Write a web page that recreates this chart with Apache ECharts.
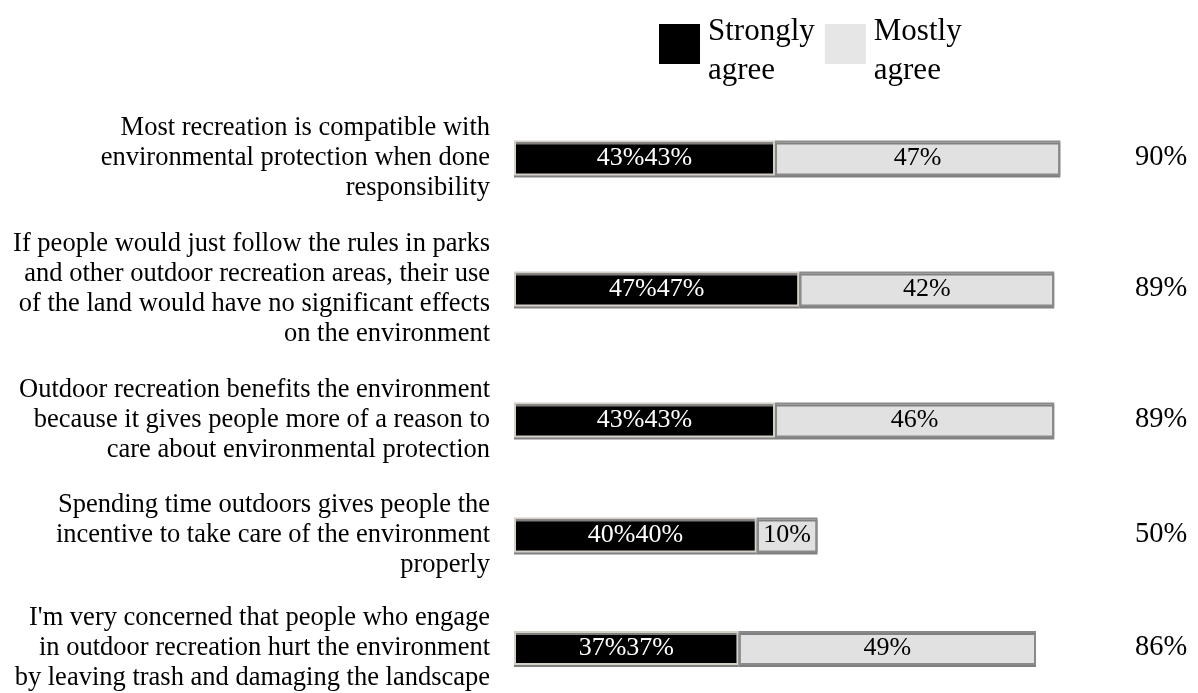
<!DOCTYPE html>
<html>
<head>
<meta charset="utf-8">
<script src="https://cdn.jsdelivr.net/npm/echarts@6/dist/echarts.min.js"></script>
<style>
  html, body { margin: 0; padding: 0; background: #fff; }
  #chart { width: 1198px; height: 693px; }
</style>
</head>
<body>
<div id="chart"></div>
<script>
// Survey statements (line breaks as printed)
const statements = [
  'Most recreation is compatible with\nenvironmental protection when done\nresponsibility',
  'If people would just follow the rules in parks\nand other outdoor recreation areas, their use\nof the land would have no significant effects\non the environment',
  'Outdoor recreation benefits the environment\nbecause it gives people more of a reason to\ncare about environmental protection',
  'Spending time outdoors gives people the\nincentive to take care of the environment\nproperly',
  "I'm very concerned that people who engage\nin outdoor recreation hurt the environment\nby leaving trash and damaging the landscape"
];
const stronglyAgree = [43, 47, 43, 40, 37];
const mostlyAgree = [47, 42, 46, 10, 49];
const totalAgree = [90, 89, 89, 50, 86];
const seriesNames = ['Strongly\nagree', 'Mostly\nagree'];

// Vertical centre of each row (rows differ in height with their text)
const rowCenters = [158, 289, 420, 535, 651];
const FONT = '"Liberation Serif", "Times New Roman", serif';

const grids = [], xAxes = [], yAxes = [], series = [];
rowCenters.forEach((c, i) => {
  grids.push({ left: 514, right: 77, top: c - 19, height: 38 });
  xAxes.push({ gridIndex: i, type: 'value', min: 0, max: 100, show: false });
  yAxes.push({
    gridIndex: i, type: 'category', data: [statements[i]],
    axisLine: { show: false }, axisTick: { show: false },
    axisLabel: { color: '#000', fontFamily: FONT, fontSize: 26.5, lineHeight: 30, margin: 24, align: 'right' }
  });
  yAxes.push({
    gridIndex: i, type: 'category', position: 'right', data: [totalAgree[i] + '%'],
    axisLine: { show: false }, axisTick: { show: false },
    axisLabel: { color: '#000', fontFamily: FONT, fontSize: 28.5, margin: 14, align: 'left' }
  });
  const common = {
    type: 'bar', stack: 'row' + i, xAxisIndex: i, yAxisIndex: i * 2,
    barWidth: 35, silent: true
  };
  series.push(Object.assign({}, common, {
    name: seriesNames[0], data: [stronglyAgree[i]],
    itemStyle: { color: '#000', borderColor: '#d4d0c8', borderWidth: 2, shadowColor: '#808080', shadowOffsetX: 0, shadowOffsetY: 2 },
    label: { show: true, position: 'inside', color: '#fff', fontFamily: FONT, fontSize: 26,
      formatter: p => p.value + '%' + p.value + '%' }
  }));
  series.push(Object.assign({}, common, {
    name: seriesNames[1], data: [mostlyAgree[i]],
    itemStyle: { color: '#e1e1e1', borderColor: '#8a8a8a', borderWidth: 2, shadowColor: '#808080', shadowOffsetX: 0, shadowOffsetY: 2 },
    label: { show: true, position: 'inside', color: '#000', fontFamily: FONT, fontSize: 26,
      formatter: p => p.value + '%' }
  }));
});

// Legend text: a thin spacer line on top lowers the two-line caption beside its swatch
const legendText = name => '{s| }\n' + name.split('\n').map(l => '{t|' + l + '}').join('\n');

const chart = echarts.init(document.getElementById('chart'), null, { renderer: 'canvas' });
chart.setOption({
  animation: false,
  backgroundColor: '#fff',
  color: ['#000', '#e6e6e6'],
  legend: {
    left: 659, top: 3, padding: 0, itemWidth: 41, itemHeight: 40, itemGap: 10,
    icon: 'rect', selectedMode: false,
    data: [
      { name: seriesNames[0], itemStyle: { color: '#000', borderWidth: 0, shadowBlur: 0, shadowOffsetY: 0 } },
      { name: seriesNames[1], itemStyle: { color: '#e6e6e6', borderWidth: 0, shadowBlur: 0, shadowOffsetY: 0 } }
    ],
    formatter: legendText,
    textStyle: {
      color: '#000', fontFamily: FONT, fontSize: 31, padding: [0, 0, 0, 3],
      rich: {
        s: { fontSize: 4, lineHeight: 14 },
        t: { color: '#000', fontFamily: FONT, fontSize: 31, lineHeight: 39 }
      }
    }
  },
  grid: grids,
  xAxis: xAxes,
  yAxis: yAxes,
  series: series
});
</script>
</body>
</html>
